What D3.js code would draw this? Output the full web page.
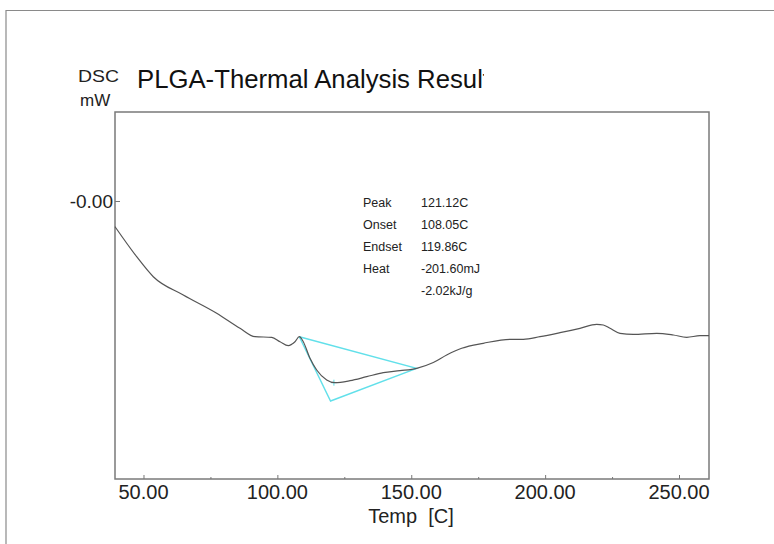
<!DOCTYPE html>
<html>
<head>
<meta charset="utf-8">
<script src="https://cdn.jsdelivr.net/npm/d3@7/dist/d3.min.js"></script>
<style>
  html, body { margin: 0; padding: 0; background: #fff; }
  svg { display: block; }
  text { font-family: "Liberation Sans", Arial, sans-serif; fill: #222; }
</style>
</head>
<body>
<svg id="chart" width="774" height="544"></svg>
<script>
// ---- data ----
const temps = [39.36, 47.46, 53.66, 64.86, 77.34, 86.04, 91.64, 97.88, 100.98, 104.08, 105.35, 106.58, 108.19,
  109.68, 112.18, 114.69, 118.42, 121.52, 127.13, 133.36, 139.56, 145.8, 152.03, 158.24, 163.24, 168.84,
  176.91, 186.88, 191.85, 198.08, 205.55, 213.02, 219.26, 221.73, 224.23, 227.96, 232.93, 241.67, 247.87,
  252.88, 257.84, 261.2];
const dscValues = [-0.257, -0.557, -0.757, -0.94, -1.123, -1.273, -1.357, -1.363, -1.407, -1.447, -1.433, -1.407, -1.357,
  -1.407, -1.573, -1.69, -1.79, -1.817, -1.797, -1.757, -1.717, -1.697, -1.673, -1.615, -1.54, -1.473,
  -1.423, -1.383, -1.383, -1.357, -1.317, -1.273, -1.233, -1.24, -1.273, -1.323, -1.333, -1.323, -1.34,
  -1.363, -1.347, -1.347];
const xMajorTicks = [50, 100, 150, 200, 250];
const xMinorTicks = [75, 125, 175, 225];
const yTicks = [0];
const tangentTemps = [108.19, 119.86, 152.0, 108.19];
const tangentValues = [-1.357, -2.00, -1.673, -1.357];
const peakPoint = [121.12, -1.817];
const annotLabels = ["Peak", "Onset", "Endset", "Heat", ""];
const annotValues = ["121.12C", "108.05C", "119.86C", "-201.60mJ", "-2.02kJ/g"];
const titleText = "PLGA-Thermal Analysis Result";
const xDomain = [39.36, 261.2];
const yDomain = [-2.78, 0.89];

// ---- layout ----
const svg = d3.select("#chart");
const L = 115, R = 709, T = 112, B = 479;
const x = d3.scaleLinear().domain(xDomain).range([L, R]);
const y = d3.scaleLinear().domain(yDomain).range([B, T]);

// outer frame
svg.append("path").attr("d", `M6,544 L6,10.5 L774,10.5`)
  .attr("fill", "none").attr("stroke", "#8a8a8a").attr("stroke-width", 1.2);

// plot box
svg.append("rect").attr("x", L).attr("y", T).attr("width", R - L).attr("height", B - T)
  .attr("fill", "none").attr("stroke", "#7a7a7a").attr("stroke-width", 1.5);

// title (clipped like the original)
svg.append("clipPath").attr("id", "titleClip")
  .append("rect").attr("x", 0).attr("y", 0).attr("width", 484).attr("height", 110);
svg.append("text").attr("x", 137).attr("y", 88)
  .attr("clip-path", "url(#titleClip)")
  .attr("font-size", 26).attr("textLength", 353).attr("lengthAdjust", "spacingAndGlyphs")
  .style("fill", "#111").text(titleText);

// y unit labels
svg.append("text").attr("x", 78).attr("y", 82).attr("font-size", 17)
  .attr("textLength", 41).attr("lengthAdjust", "spacingAndGlyphs").text("DSC");
svg.append("text").attr("x", 80).attr("y", 106).attr("font-size", 17).text("mW");

// x axis (ticks inside)
const xAxis = d3.axisTop(x).tickValues(xMajorTicks).tickSize(4).tickFormat("");
const gx = svg.append("g").attr("transform", `translate(0,${B})`).call(xAxis);
gx.select(".domain").remove();
gx.selectAll("line").attr("stroke", "#777");
const xMinor = d3.axisTop(x).tickValues(xMinorTicks).tickSize(2).tickFormat("");
const gxm = svg.append("g").attr("transform", `translate(0,${B})`).call(xMinor);
gxm.select(".domain").remove();
gxm.selectAll("line").attr("stroke", "#777");
svg.append("g").selectAll("text").data(xMajorTicks).join("text")
  .attr("x", d => x(d)).attr("y", 499).attr("text-anchor", "middle")
  .attr("font-size", 20).text(d => d3.format(".2f")(d));

svg.append("text").attr("x", 411).attr("y", 523).attr("text-anchor", "middle")
  .attr("font-size", 20).style("white-space", "pre").attr("xml:space", "preserve").text("Temp  [C]");

// y axis (tick inside)
const yAxis = d3.axisRight(y).tickValues(yTicks).tickSize(5).tickFormat("");
const gy = svg.append("g").attr("transform", `translate(${L},0)`).call(yAxis);
gy.select(".domain").remove();
gy.selectAll("line").attr("stroke", "#777");
svg.append("g").selectAll("text").data(yTicks).join("text")
  .attr("x", 113).attr("y", d => y(d) + 7).attr("text-anchor", "end")
  .attr("font-size", 19).text(d => "-" + d3.format(".2f")(Math.abs(d)));

// tangent / baseline construction (cyan)
const tangentLine = d3.line().x((d, i) => x(tangentTemps[i])).y((d, i) => y(tangentValues[i]));
svg.append("path").attr("d", tangentLine(tangentTemps))
  .attr("fill", "none").attr("stroke", "#62e0ea").attr("stroke-width", 1.4);

// peak marker
const px = x(peakPoint[0]), py = y(peakPoint[1]);
svg.append("path").attr("d", `M${px},${py - 3}V${py + 3}M${px - 3},${py}H${px + 3}`)
  .attr("stroke", "#62e0ea").attr("stroke-width", 1);

// DSC curve
const line = d3.line().x((d, i) => x(temps[i])).y((d, i) => y(dscValues[i])).curve(d3.curveMonotoneX);
svg.append("path").attr("d", line(temps))
  .attr("fill", "none").attr("stroke", "#555").attr("stroke-width", 1.2);

// annotation
const ann = svg.append("g");
ann.selectAll("text.lab").data(annotLabels).join("text").attr("class", "lab")
  .attr("x", 363).attr("y", (d, i) => 207 + i * 22).attr("font-size", 12.5).text(d => d);
ann.selectAll("text.val").data(annotValues).join("text").attr("class", "val")
  .attr("x", 421).attr("y", (d, i) => 207 + i * 22).attr("font-size", 12.5).text(d => d);
</script>
</body>
</html>
